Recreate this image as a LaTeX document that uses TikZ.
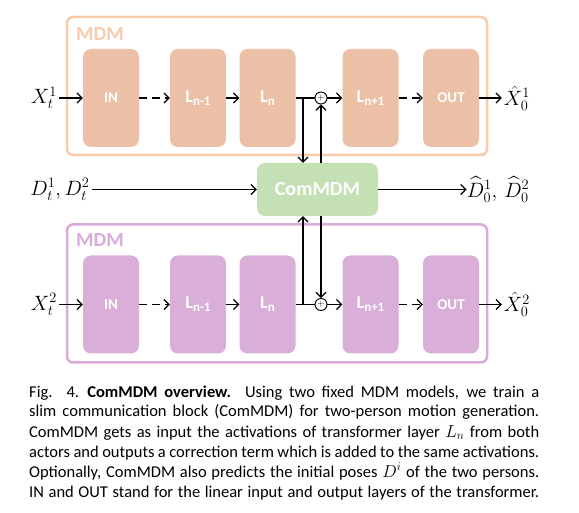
\documentclass[tikz,border=0pt]{standalone}
\usepackage{amsmath}
\usepackage{fontspec}
\usepackage{tikz}
\usetikzlibrary{arrows.meta, positioning}
\newfontfamily\calibri{Carlito}
\definecolor{peachfill}{RGB}{235,192,166}
\definecolor{peachline}{RGB}{248,203,173}
\definecolor{lilacfill}{RGB}{217,175,217}
\definecolor{lilacline}{RGB}{218,170,218}
\definecolor{greenfill}{RGB}{197,224,180}
\newcommand{\lay}[1]{L\raisebox{-0.35ex}{\fontsize{13}{13}\selectfont #1}}
\newcommand{\lbl}[1]{\fontsize{20}{20}\selectfont $#1$}

\begin{document}
\begin{tikzpicture}[x=1pt, y=-1pt, inner sep=0pt,
  blk/.style={rounded corners=8pt, minimum width=56pt, minimum height=98pt,
    text=white, font=\calibri\bfseries\fontsize{15}{15}\selectfont},
  bigtxt/.style={font=\calibri\bfseries\fontsize{18}{18}\selectfont},
  frm/.style={draw, line width=2.5pt, rounded corners=6pt,
    minimum width=420pt, minimum height=138pt},
  mdm/.style={anchor=west, font=\calibri\bfseries\fontsize{20}{20}\selectfont},
  flow/.style={line width=1.2pt, -{Straight Barb[length=5pt, width=10pt]}},
  gap/.style={dash pattern=on 8pt off 5pt},
  plus/.style={draw, circle, minimum size=12pt, line width=0.9pt,
    font=\fontsize{9}{9}\selectfont}]
\useasboundingbox (0,0) rectangle (579,513);

% first MDM
\node[frm, draw=peachline] (mdmA) at (277,86) {};
\node[mdm, text=peachline] (tagA) at (76,34) {MDM};
\node[blk, fill=peachfill] (inA) at (111,98) {IN};
\node[blk, bigtxt, fill=peachfill] (lmA) at (198,98) {\lay{n-1}};
\node[blk, bigtxt, fill=peachfill] (lnA) at (267.5,98) {\lay{n}};
\node[plus] (plA) at (321,98) {+};
\node[blk, bigtxt, fill=peachfill] (lpA) at (370.5,98) {\lay{n+1}};
\node[blk, fill=peachfill] (outA) at (451,98) {OUT};
\node (xA) at (44,98) {\lbl{X_t^1}};
\node (yA) at (517,98) {\lbl{\hat{X}_0^1}};

% second MDM
\node[frm, draw=lilacline] (mdmB) at (277,293.5) {};
\node[mdm, text=lilacline] (tagB) at (76,240) {MDM};
\node[blk, fill=lilacfill] (inB) at (111,304.5) {IN};
\node[blk, bigtxt, fill=lilacfill] (lmB) at (198,304.5) {\lay{n-1}};
\node[blk, bigtxt, fill=lilacfill] (lnB) at (267.5,304.5) {\lay{n}};
\node[plus] (plB) at (321,304.5) {+};
\node[blk, bigtxt, fill=lilacfill] (lpB) at (370.5,304.5) {\lay{n+1}};
\node[blk, fill=lilacfill] (outB) at (451,304.5) {OUT};
\node (xB) at (44,304.5) {\lbl{X_t^2}};
\node (yB) at (517,304.5) {\lbl{\hat{X}_0^2}};

% communication block
\node[blk, fill=greenfill, minimum width=121pt, minimum height=53pt,
  font=\calibri\bfseries\fontsize{20}{20}\selectfont] (com) at (317.5,189.5) {ComMDM};
\node (dIn) at (60,189.5) {\lbl{D_t^1, D_t^2}};
\node (dOut) at (498,189.5) {\lbl{\widehat{D}_0^1,\, \widehat{D}_0^2}};
\coordinate (jA) at (303,98);
\coordinate (jB) at (303,304.5);

\draw[flow] ([xshift=2pt]xA.east) -- (inA);
\draw[flow, gap] (inA) -- (lmA);
\draw[flow] (lmA) -- (lnA);
\draw[line width=1.2pt] (lnA) -- (plA);
\draw[flow] (plA) -- (lpA);
\draw[flow, gap] (lpA) -- (outA);
\draw[flow] (outA) -- ([xshift=-2pt]yA.west);
\draw[flow] (jA) -- (jA |- com.north);
\draw[flow] (com.north -| plA) -- (plA);

\draw[flow] ([xshift=2pt]xB.east) -- (inB);
\draw[flow, gap] (inB) -- (lmB);
\draw[flow] (lmB) -- (lnB);
\draw[line width=1.2pt] (lnB) -- (plB);
\draw[flow] (plB) -- (lpB);
\draw[flow, gap] (lpB) -- (outB);
\draw[flow] (outB) -- ([xshift=-2pt]yB.west);
\draw[flow] (jB) -- (jB |- com.south);
\draw[flow] (com.south -| plB) -- (plB);

\draw[flow] ([xshift=2pt]dIn.east) -- (com);
\draw[flow] (com) -- (dOut);

% caption
\foreach \t [count=\i] in {
  {Fig. 4.\enskip\textbf{ComMDM overview.} Using two fixed MDM models, we train a},
  {slim communication block (ComMDM) for two-person motion generation.},
  {ComMDM gets as input the activations of transformer layer $L_n$ from both},
  {actors and outputs a correction term which is added to the same activations.},
  {Optionally, ComMDM also predicts the initial poses $D^i$ of the two persons.},
  {IN and OUT stand for the linear input and output layers of the transformer.}}
  \node[anchor=base west, font=\calibri\fontsize{16.5}{20}\selectfont]
    (cap\i) at (29,{397+20*(\i-1)}) {\makebox[510pt][s]{\t}};
\end{tikzpicture}
\end{document}
